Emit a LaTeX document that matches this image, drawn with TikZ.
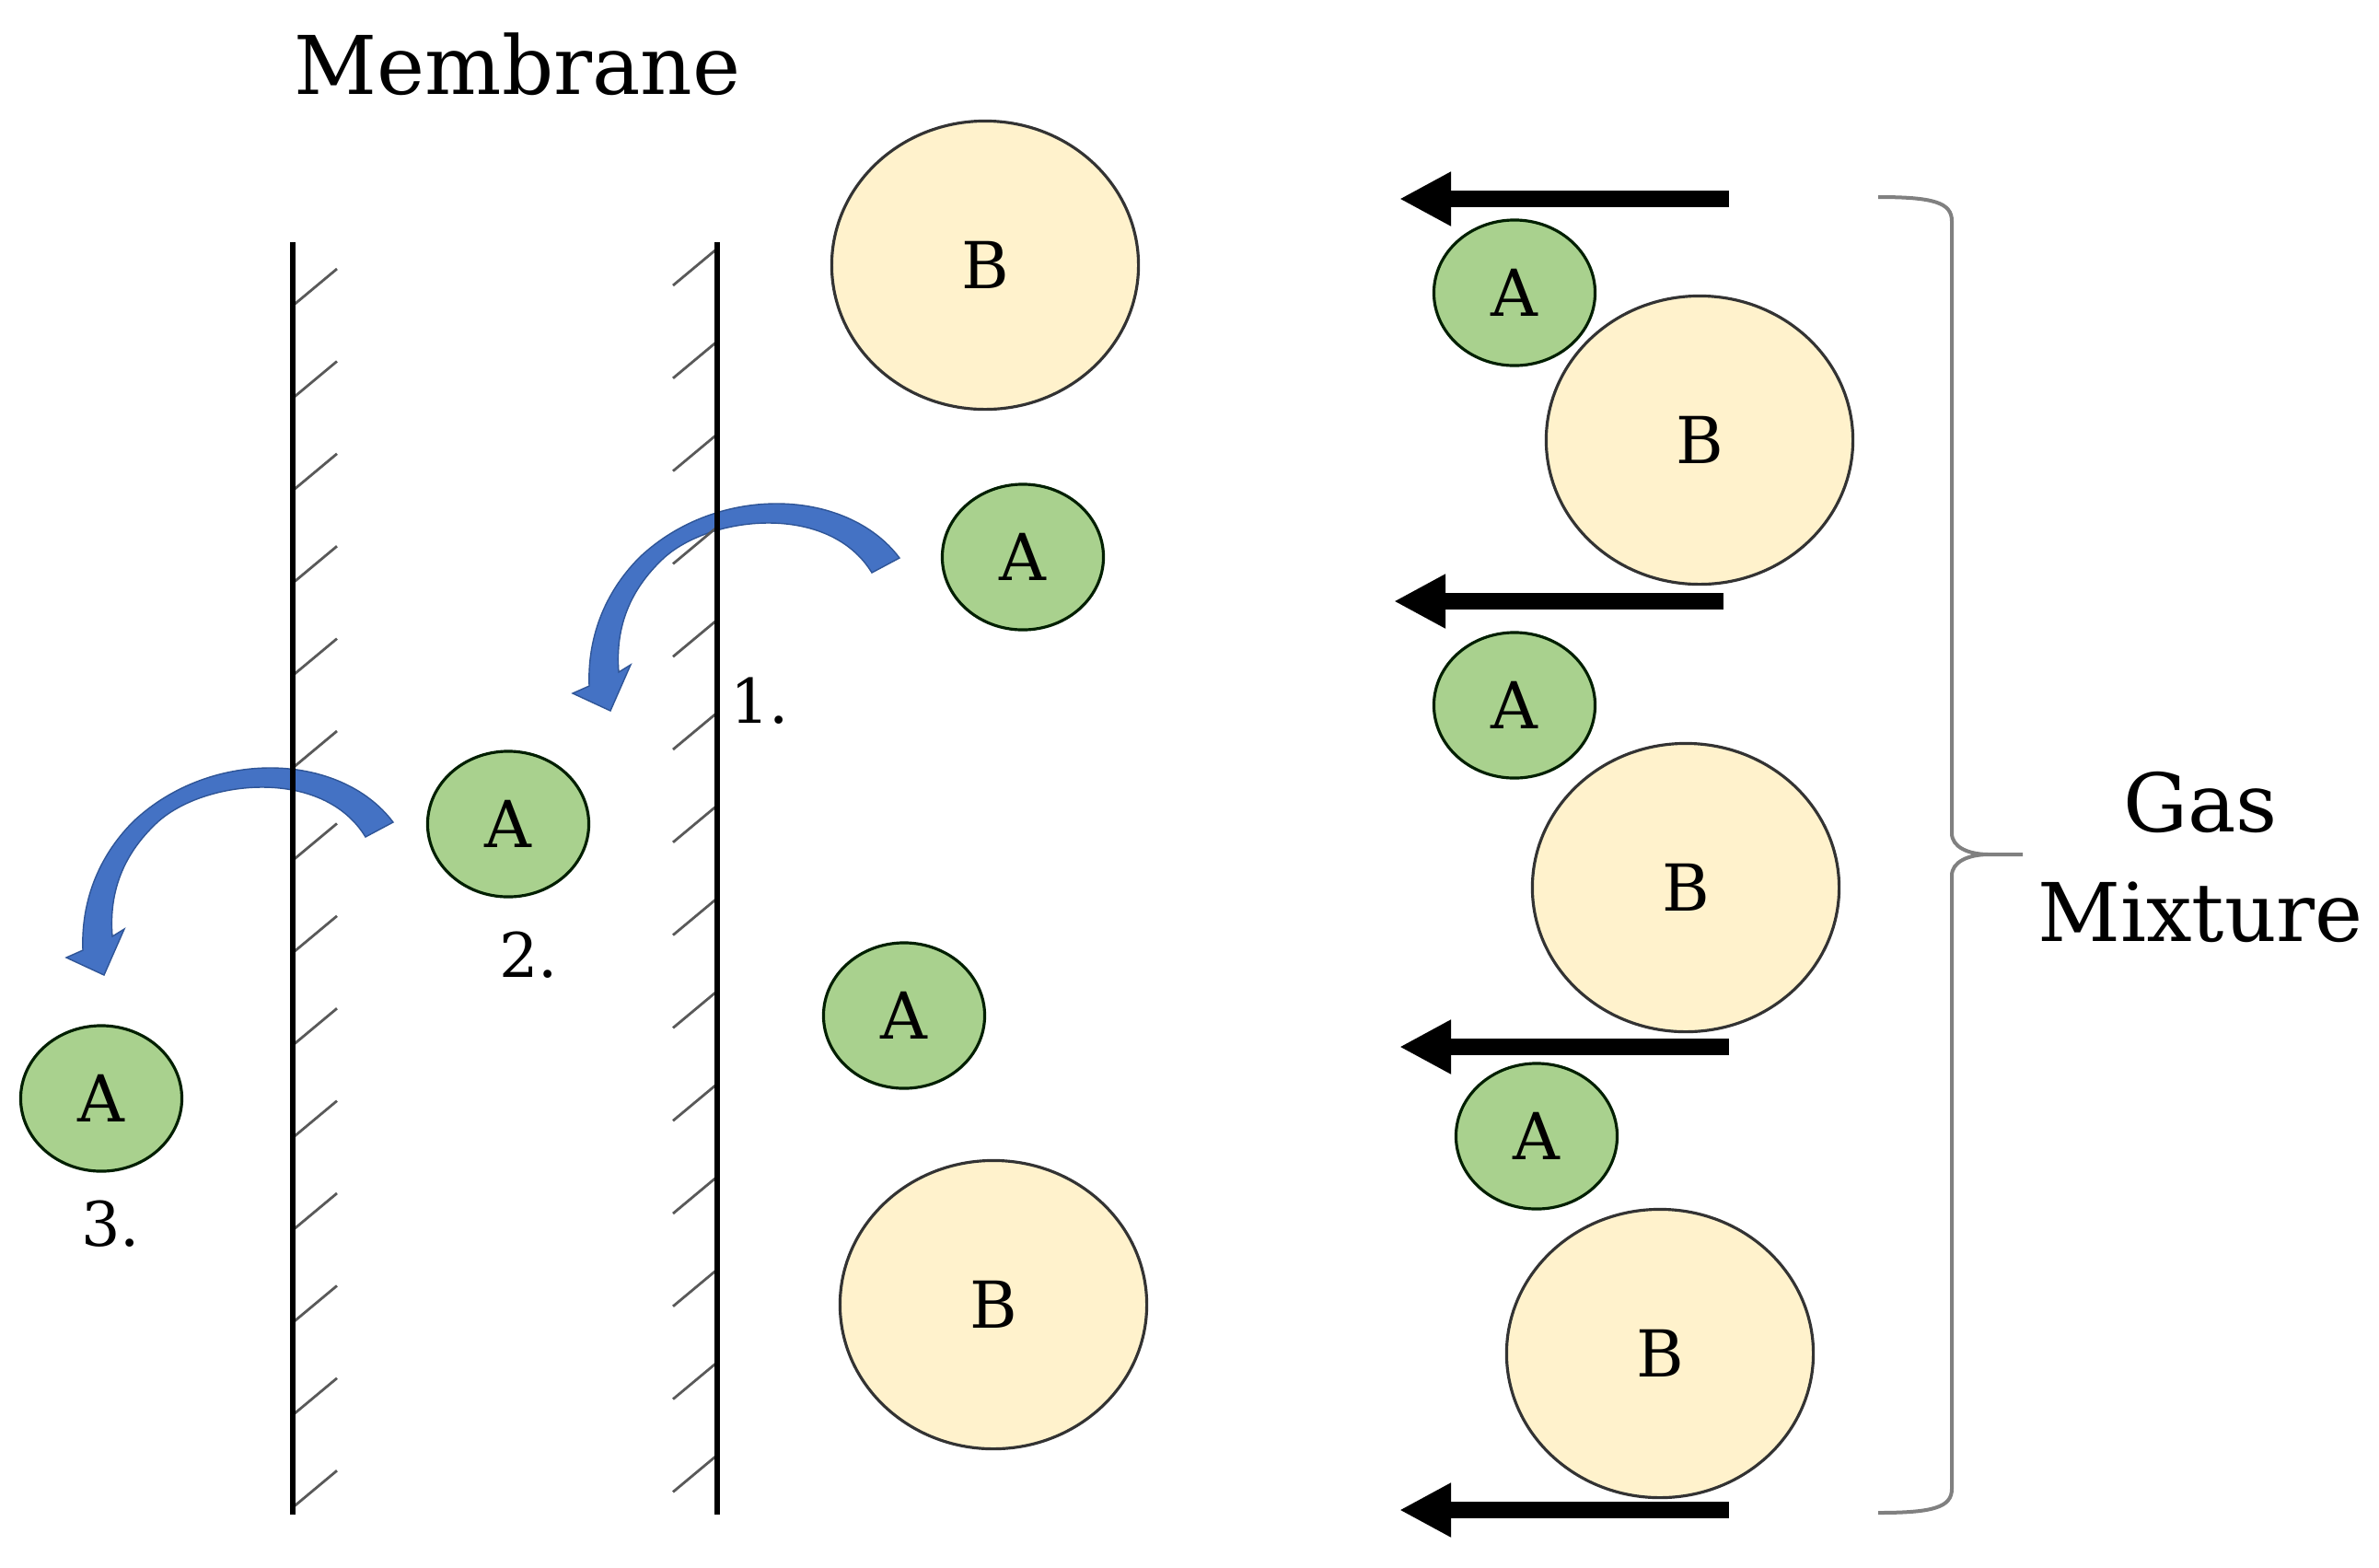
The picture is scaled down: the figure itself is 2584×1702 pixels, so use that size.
\documentclass[tikz,border=0pt]{standalone}
\usepackage{fontspec}
\setmainfont{DejaVu Serif}
\usetikzlibrary{shapes.geometric,arrows.meta}
\definecolor{agreen}{HTML}{A9D18E}
\definecolor{bbeige}{HTML}{FFF2CC}
\definecolor{arrowblue}{HTML}{4472C4}
\definecolor{arrowedge}{HTML}{2F5597}
\definecolor{hatchgray}{HTML}{595959}
\definecolor{bracegray}{HTML}{808080}
\newcommand\bluecurvearrow{%
  \path[curvedarrow] (977,606) .. controls (920,530) and (780,525) .. (695,605)
    .. controls (655,645) and (638,695) .. (640,745)
    -- (622,753) -- (663,772) -- (685,722) -- (672,730)
    .. controls (668,680) and (685,640) .. (720,607)
    .. controls (770,560) and (900,545) .. (947,622) -- cycle;}
\tikzset{
  molA/.style={ellipse, draw=black!70!green!40!black, line width=0.9pt, fill=agreen,
    minimum width=1.75cm, minimum height=1.58cm, inner sep=0pt, font=\fontsize{20}{24}\selectfont},
  molB/.style={ellipse, draw=black!80, line width=0.9pt, fill=bbeige,
    minimum width=3.33cm, minimum height=3.13cm, inner sep=0pt, font=\fontsize{20}{24}\selectfont},
  flowarrow/.style={line width=0.18cm, -{Triangle[length=0.56cm,width=0.55cm]}},
  membrane/.style={line width=0.06cm, black},
  hatch/.style={line width=0.028cm, hatchgray},
  curvedarrow/.style={fill=arrowblue, draw=arrowedge, line width=0.4pt},
  bigtext/.style={font=\fontsize{25}{30}\selectfont, inner sep=0pt, anchor=base},
  numlabel/.style={font=\fontsize{19}{23}\selectfont, inner sep=0pt},
  bracestyle/.style={line width=0.04cm, bracegray}
}
\begin{document}
\begin{tikzpicture}[x=0.01cm,y=-0.01cm]
\useasboundingbox (0,0) rectangle (2584,1702);

% curved arrows (behind membrane lines)
\bluecurvearrow
\begin{scope}[shift={(-550,287)}]
\bluecurvearrow
\end{scope}

% membrane hatches
\foreach \k in {0,...,13}{
  \pgfmathsetmacro\yl{332+100.4*\k}
  \draw[hatch] (318,\yl) -- ++(48,-40);
  \pgfmathsetmacro\yr{270+100.8*\k}
  \draw[hatch] (779,\yr) -- ++(-48,40);
}
% membrane lines
\coordinate (m1t) at (318,263);
\coordinate (m1b) at (318,1645);
\coordinate (m2t) at (779,263);
\coordinate (m2b) at (779,1645);
\draw[membrane] (m1t) -- (m1b);
\draw[membrane] (m2t) -- (m2b);

\node[bigtext] (memlabel) at (562,102) {Membrane};

% molecules near the membrane
\node[molB] (b1) at (1070,288) {B};
\node[molA] (a1) at (1111,605) {A};
\node[molA] (a2) at (552,895) {A};
\node[molA] (a3) at (110,1193) {A};
\node[molA] (a4) at (982,1103) {A};
\node[molB] (b2) at (1079,1417) {B};

\node[numlabel] (n1) at (825,761) {1.};
\node[numlabel] (n2) at (574,1037) {2.};
\node[numlabel] (n3) at (120,1329) {3.};

% gas mixture column
\node[molA] (ra1) at (1645,318) {A};
\node[molB] (rb1) at (1846,478) {B};
\node[molA] (ra2) at (1645,766) {A};
\node[molB] (rb2) at (1831,964) {B};
\node[molA] (ra3) at (1669,1234) {A};
\node[molB] (rb3) at (1803,1470) {B};

% flow arrows
\coordinate (f1s) at (1878,216); \coordinate (f1e) at (1520,216);
\coordinate (f2s) at (1872,653); \coordinate (f2e) at (1514,653);
\coordinate (f3s) at (1878,1137); \coordinate (f3e) at (1520,1137);
\coordinate (f4s) at (1878,1640); \coordinate (f4e) at (1520,1640);
\draw[flowarrow] (f1s) -- (f1e);
\draw[flowarrow] (f2s) -- (f2e);
\draw[flowarrow] (f3s) -- (f3e);
\draw[flowarrow] (f4s) -- (f4e);

% brace
\draw[bracestyle] (2040,214) .. controls (2100,214) and (2120,220) .. (2120,240)
  -- (2120,905) .. controls (2120,920) and (2138,928) .. (2160,928) -- (2197,928)
  (2160,928) .. controls (2138,928) and (2120,936) .. (2120,951)
  -- (2120,1617) .. controls (2120,1637) and (2100,1643) .. (2040,1643);

\node[bigtext] (gas) at (2390,903) {Gas};
\node[bigtext] (mix) at (2390,1022) {Mixture};
\end{tikzpicture}
\end{document}
